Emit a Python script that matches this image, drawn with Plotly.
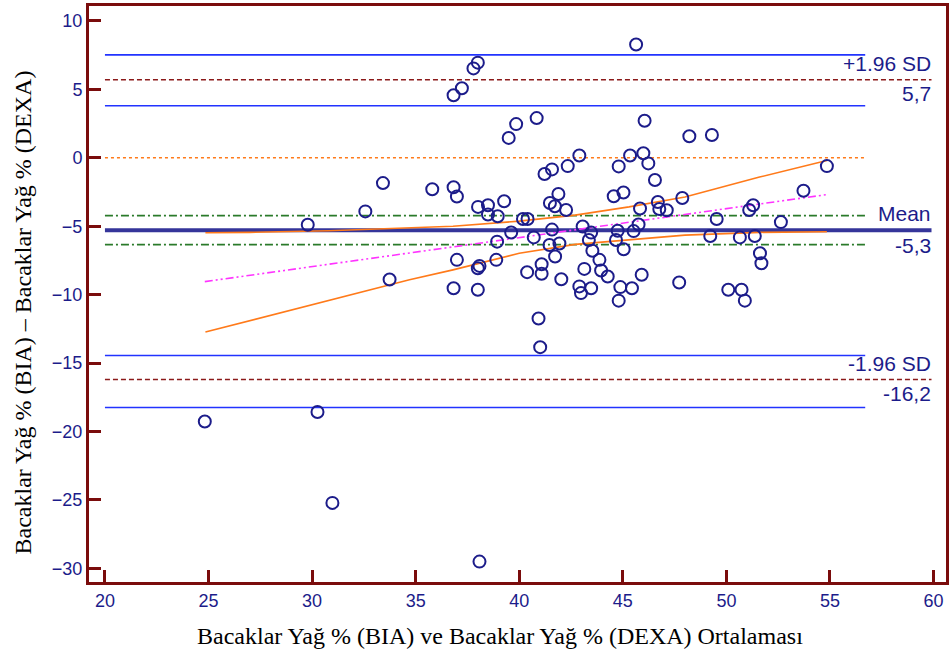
import plotly.graph_objects as go

# Bland-Altman: leg fat % measured by BIA vs DEXA
means = [
    45.64, 38.00, 37.79, 37.23, 36.83, 40.84, 46.05, 39.85, 48.21, 49.30,
    39.49, 42.90, 45.35, 45.99, 46.23, 44.80, 42.34, 41.58, 41.22, 54.85,
    46.55, 53.72, 33.42, 35.80, 36.83, 36.99, 41.89, 45.03, 44.56, 47.87,
    39.27, 41.48, 41.72, 42.26, 51.29, 51.10, 46.69, 46.76, 47.12, 45.83,
    38.01, 38.49, 38.49, 38.96, 32.57, 29.79, 40.18, 40.40, 49.53, 52.63,
    43.06, 39.61, 41.58, 43.47, 44.75, 45.52, 45.76, 38.93, 40.70, 43.36,
    44.67, 41.46, 41.94, 43.53, 45.04, 49.22, 50.65, 51.37, 43.87, 36.99,
    41.73, 38.89, 38.08, 38.00, 41.08, 40.38, 41.08, 43.14, 43.95, 44.27,
    45.91, 33.74, 42.03, 51.62, 51.69, 47.72, 36.83, 38.00, 42.90, 42.98,
    43.47, 44.88, 45.44, 44.80, 50.09, 50.73, 50.89, 40.93, 41.01, 24.82,
    30.26, 30.98, 38.08,
]
diffs = [
    8.28, 6.95, 6.53, 5.08, 4.57, 2.90, 2.71, 2.46, 1.57, 1.66,
    1.45, 0.17, 0.17, 0.33, -0.41, -0.63, -0.61, -0.85, -1.19, -0.61,
    -1.63, -2.41, -1.85, -2.30, -2.15, -2.83, -2.65, -2.54, -2.81, -2.94,
    -3.18, -3.30, -3.54, -3.82, -3.47, -3.82, -3.23, -3.74, -3.83, -3.71,
    -3.59, -3.47, -4.15, -4.27, -3.92, -4.90, -4.48, -4.48, -4.48, -4.70,
    -5.02, -5.46, -5.25, -5.47, -5.33, -5.36, -4.88, -6.13, -5.82, -6.01,
    -6.01, -6.37, -6.26, -6.80, -6.69, -5.72, -5.82, -5.72, -7.46, -7.46,
    -7.22, -7.46, -7.90, -8.07, -7.78, -8.36, -8.48, -8.12, -8.24, -8.68,
    -8.55, -8.90, -8.88, -6.98, -7.71, -9.11, -9.53, -9.64, -9.40, -9.89,
    -9.53, -9.45, -9.53, -10.44, -9.64, -9.64, -10.44, -11.75, -13.84, -19.27,
    -18.58, -25.22, -29.51,
]

# agreement statistics
mean_diff = -5.3
upper_loa = 5.7
lower_loa = -16.2
mean_ci = [-4.23, -6.35]
upper_loa_ci = [7.52, 3.80]
lower_loa_ci = [-14.45, -18.25]

# regression of differences on means, with its 95% confidence band
reg_x = [24.82, 54.85]
reg_y = [-9.05, -2.69]
band_x = [24.85, 27.0, 30.8, 34.7, 36.8, 40.0, 42.7, 45.3, 48.0, 51.6, 54.85]
band_hi = [-5.48, -5.45, -5.33, -5.09, -5.00, -4.63, -4.19, -3.59, -2.87, -1.41, -0.20]
band_lo = [-12.73, -11.91, -10.44, -8.92, -8.19, -6.98, -6.33, -5.97, -5.65, -5.45, -5.41]

x_ticks = [20, 25, 30, 35, 40, 45, 50, 55, 60]
y_ticks = [10, 5, 0, -5, -10, -15, -20, -25, -30]

X0, X_SHORT, X_LONG = 20, 56.7, 59.9
FRAME = "#7a0c0c"
NAVY = "#1c1c8a"
BLUE = "#2233ff"
ORANGE = "#ff7a1a"

fig = go.Figure()


def hline(y, x1, color, width, dash="solid"):
    fig.add_trace(go.Scatter(x=[X0, x1], y=[y, y], mode="lines",
                             line=dict(color=color, width=width, dash=dash),
                             hoverinfo="skip", showlegend=False))


# zero line
hline(0, X_SHORT, ORANGE, 1.6, "dot")
# confidence intervals of the limits of agreement
for v in upper_loa_ci + lower_loa_ci:
    hline(v, X_SHORT, BLUE, 1.6)
# confidence interval of the mean difference
for v in mean_ci:
    hline(v, X_SHORT, "#2a7a2a", 1.6, "8px,3px,2px,3px")
# limits of agreement
for v in (upper_loa, lower_loa):
    hline(v, X_LONG, "#8b1a1a", 1.5, "5px,3px")
# mean difference
hline(mean_diff, X_LONG, "#35359a", 4)

# regression line and confidence band
fig.add_trace(go.Scatter(x=reg_x, y=reg_y, mode="lines",
                         line=dict(color="#ff33ff", width=1.6,
                                   dash="8px,3px,2px,3px,2px,3px"),
                         hoverinfo="skip", showlegend=False))
for band in (band_hi, band_lo):
    fig.add_trace(go.Scatter(x=band_x, y=band, mode="lines",
                             line=dict(color=ORANGE, width=1.6),
                             hoverinfo="skip", showlegend=False))

# observations
fig.add_trace(go.Scatter(x=means, y=diffs, mode="markers",
                         marker=dict(symbol="circle-open", size=12,
                                     color=NAVY, line=dict(width=2, color=NAVY)),
                         showlegend=False))


def fmt(v):
    return f"{v:.1f}".replace(".", ",")


label_font = dict(family="Liberation Sans, Arial, sans-serif", size=21, color=NAVY)
labels = [
    ("+1.96 SD", upper_loa, 16),
    (fmt(upper_loa), upper_loa, -14),
    ("Mean", mean_diff, 17),
    (fmt(mean_diff), mean_diff, -15),
    ("-1.96 SD", lower_loa, 16),
    (fmt(lower_loa), lower_loa, -14),
]
annotations = [
    dict(x=59.95, y=y, xref="x", yref="y", text=t, showarrow=False,
         xanchor="right", yanchor="middle", yshift=s, font=label_font)
    for t, y, s in labels
]

title_font = dict(family="Liberation Serif, Times New Roman, serif", size=24, color="black")
annotations.append(dict(x=0.480, y=-0.093, xref="paper", yref="paper",
                        text="Bacaklar Yağ % (BIA) ve Bacaklar Yağ % (DEXA) Ortalaması",
                        showarrow=False, xanchor="center", yanchor="middle",
                        font=title_font))
annotations.append(dict(x=-0.077, y=0.468, xref="paper", yref="paper",
                        text="Bacaklar Yağ % (BIA) – Bacaklar Yağ % (DEXA)",
                        showarrow=False, xanchor="center", yanchor="middle",
                        textangle=-90, font=title_font))

tick_font = dict(family="Liberation Sans, Arial, sans-serif", size=18, color=NAVY)
axis_common = dict(showgrid=False, zeroline=False, showline=True, mirror=True,
                   linecolor=FRAME, linewidth=3, ticks="inside", ticklen=12,
                   tickwidth=3, tickcolor=FRAME, tickfont=tick_font)

fig.update_layout(
    width=952, height=661,
    margin=dict(l=89, r=5, t=3, b=79),
    paper_bgcolor="white", plot_bgcolor="white",
    xaxis=dict(range=[19.23, 60.6], tickvals=x_ticks, **axis_common),
    yaxis=dict(range=[-31.0, 11.09], tickvals=y_ticks, **axis_common),
    annotations=annotations,
)

fig.write_html("out.html")
